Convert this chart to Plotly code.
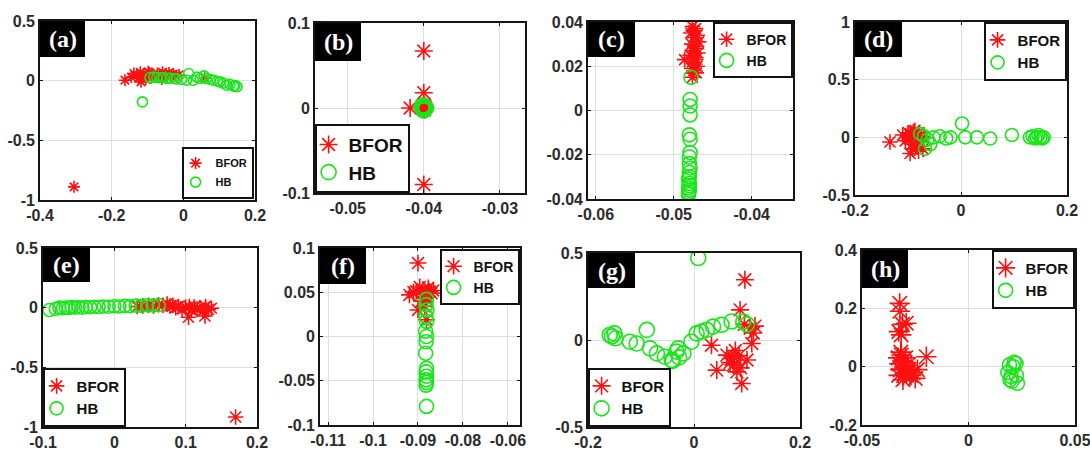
import plotly.graph_objects as go

W, H = 1090, 454

# ---------------- data ----------------
# (a)
a_bfor_x = [-0.305, -0.163, -0.145, -0.138, -0.130, -0.125, -0.120, -0.115, -0.110, -0.105,
            -0.100, -0.095, -0.090, -0.085, -0.080, -0.072, -0.065, -0.058, -0.052, -0.046,
            -0.040, -0.034, -0.028, -0.020, -0.012, -0.118, -0.098, -0.060, 0.060]
a_bfor_y = [-0.890, 0.004, 0.030, 0.060, 0.045, 0.020, 0.070, 0.035, 0.055, 0.010,
            0.040, 0.065, 0.025, 0.050, 0.035, 0.060, 0.045, 0.070, 0.050, 0.030,
            0.065, 0.045, 0.055, 0.040, 0.050, -0.010, 0.075, 0.015, 0.020]
a_hb_x = [-0.114, -0.093, -0.082, -0.074, -0.062, -0.056, -0.045, -0.037, -0.025, -0.019,
          -0.005, 0.009, 0.015, 0.028, 0.038, 0.047, 0.058, 0.065, 0.075, 0.084,
          0.095, 0.102, 0.112, 0.121, 0.130, 0.140, 0.144, 0.150]
a_hb_y = [-0.178, 0.026, 0.030, 0.026, 0.024, 0.026, 0.020, 0.022, 0.018, 0.015,
          0.010, 0.004, 0.060, 0.004, 0.030, 0.018, 0.040, 0.018, 0.010, 0.004,
          -0.005, -0.010, -0.020, -0.038, -0.030, -0.046, -0.040, -0.050]
# (b)
b_bfor_x = [-0.0400, -0.0400, -0.0418, -0.0402, -0.0399, -0.0398, -0.0401, -0.0400, -0.0399, -0.0400]
b_bfor_y = [0.067, 0.018, 0.000, 0.002, -0.002, 0.001, -0.001, 0.000, 0.003, -0.090]
b_hb_x = [-0.0402, -0.0398, -0.0400, -0.0401, -0.0399, -0.0397, -0.0403, -0.0400]
b_hb_y = [0.000, 0.001, -0.003, 0.003, -0.002, 0.000, 0.001, 0.002]
# (c)
c_bfor_x = [-0.0476, -0.0472, -0.0478, -0.0470, -0.0474, -0.0468, -0.0477, -0.0473, -0.0471, -0.0475,
            -0.0469, -0.0479, -0.0474, -0.0472, -0.0486, -0.0476, -0.0473, -0.0470, -0.0477, -0.0474,
            -0.0471, -0.0476, -0.0475]
c_bfor_y = [0.038, 0.037, 0.035, 0.034, 0.033, 0.031, 0.030, 0.029, 0.028, 0.027,
            0.026, 0.025, 0.024, 0.023, 0.023, 0.022, 0.021, 0.020, 0.019, 0.018,
            0.017, 0.015, 0.036]
c_hb_x = [-0.0478, -0.0479, -0.0479, -0.0479, -0.0480, -0.0479, -0.0479, -0.0480, -0.0480, -0.0479,
          -0.0480, -0.0480, -0.0481, -0.0480, -0.0480, -0.0481, -0.0480, -0.0481, -0.0481]
c_hb_y = [0.015, 0.005, 0.002, -0.002, -0.011, -0.013, -0.019, -0.021, -0.024, -0.026,
          -0.028, -0.030, -0.031, -0.033, -0.034, -0.035, -0.036, -0.037, -0.038]
# (d)
d_bfor_x = [-0.134, -0.110, -0.105, -0.100, -0.098, -0.095, -0.092, -0.090, -0.088, -0.085,
            -0.083, -0.080, -0.078, -0.075, -0.072, -0.070, -0.096, -0.087, -0.082, -0.093,
            -0.079, -0.091]
d_bfor_y = [-0.040, 0.020, -0.030, 0.040, -0.010, 0.030, -0.060, 0.050, 0.000, -0.080,
            0.020, -0.120, -0.040, 0.010, -0.100, 0.000, -0.140, 0.060, -0.020, 0.010,
            0.040, -0.100]
d_hb_x = [-0.077, -0.068, -0.063, -0.052, -0.040, -0.028, -0.020, 0.002, 0.008, 0.030,
          0.055, 0.096, 0.130, 0.135, 0.140, 0.143, 0.146, 0.150, 0.153, 0.156,
          -0.070, -0.058]
d_hb_y = [0.030, -0.100, -0.020, 0.000, 0.010, -0.010, 0.000, 0.120, 0.000, 0.000,
          -0.010, 0.020, 0.000, 0.010, -0.010, 0.000, 0.020, 0.000, -0.010, 0.000,
          0.010, -0.060]
# (e)
e_bfor_x = [0.032, 0.040, 0.048, 0.055, 0.062, 0.068, 0.074, 0.078, 0.082, 0.086,
            0.090, 0.095, 0.100, 0.105, 0.108, 0.112, 0.116, 0.120, 0.124, 0.128,
            0.132, 0.136, 0.104, 0.127, 0.170]
e_bfor_y = [0.010, 0.015, 0.020, 0.015, 0.025, 0.020, 0.030, 0.015, 0.020, 0.000,
            0.010, -0.010, 0.005, 0.010, -0.020, 0.005, -0.010, 0.000, -0.030, 0.010,
            -0.015, -0.005, -0.080, -0.070, -0.916]
e_hb_x = [-0.091, -0.082, -0.077, -0.072, -0.068, -0.064, -0.060, -0.055, -0.050, -0.045,
          -0.040, -0.034, -0.028, -0.022, -0.015, -0.008, 0.000, 0.007, 0.015, 0.022,
          0.030, 0.038, 0.046, 0.054, 0.062]
e_hb_y = [-0.020, -0.010, 0.000, -0.005, 0.002, -0.003, 0.005, 0.000, 0.004, 0.000,
          0.006, 0.003, 0.008, 0.005, 0.010, 0.008, 0.012, 0.010, 0.015, 0.012,
          0.018, 0.015, 0.020, 0.018, 0.022]
# (f)
f_bfor_x = [-0.0900, -0.0919, -0.0904, -0.0889, -0.0877, -0.0870, -0.0881, -0.0892, -0.0900, -0.0885,
            -0.0881, -0.0874, -0.0866, -0.0896, -0.0910, -0.0883]
f_bfor_y = [0.083, 0.047, 0.051, 0.053, 0.055, 0.049, 0.045, 0.040, 0.030, 0.034,
            0.019, 0.051, 0.052, 0.056, 0.050, 0.043]
f_hb_x = [-0.0881, -0.0882, -0.0880, -0.0882, -0.0881, -0.0883, -0.0881, -0.0882, -0.0883, -0.0881,
          -0.0882, -0.0881, -0.0882, -0.0881, -0.0882, -0.0881]
f_hb_y = [0.042, 0.036, 0.030, 0.023, 0.017, 0.006, 0.000, -0.006, -0.019, -0.036,
          -0.040, -0.045, -0.049, -0.052, -0.055, -0.079]
# (g)
g_bfor_x = [0.096, 0.087, 0.106, 0.112, 0.109, 0.033, 0.043, 0.062, 0.071, 0.074,
            0.081, 0.090, 0.100, 0.078, 0.068, 0.085, 0.095, 0.115, 0.088, 0.075]
g_bfor_y = [0.346, 0.173, 0.067, 0.040, -0.020, -0.030, -0.173, -0.087, -0.106, -0.144,
            -0.183, -0.250, -0.115, -0.060, -0.130, -0.090, 0.090, 0.080, -0.160, -0.100]
g_hb_x = [0.008, -0.159, -0.155, -0.150, -0.148, -0.121, -0.108, -0.089, -0.083, -0.070,
          -0.055, -0.042, -0.033, -0.030, -0.020, -0.005, 0.005, 0.014, 0.024, 0.036,
          0.052, 0.071, 0.093, 0.100, -0.028, -0.040]
g_hb_y = [0.471, 0.029, 0.020, 0.038, 0.010, -0.010, -0.020, 0.058, -0.048, -0.077,
          -0.096, -0.115, -0.067, -0.048, -0.077, -0.010, 0.038, 0.048, 0.058, 0.077,
          0.087, 0.106, 0.106, 0.090, -0.100, -0.120]
# (h)
h_bfor_x = [-0.0323, -0.0292, -0.0327, -0.0316, -0.0198, -0.0330, -0.0325, -0.0320, -0.0315, -0.0310,
            -0.0305, -0.0300, -0.0295, -0.0290, -0.0280, -0.0270, -0.0260, -0.0250, -0.0240, -0.0328,
            -0.0318, -0.0308, -0.0298, -0.0285, -0.0310, -0.0322]
h_bfor_y = [0.217, 0.149, 0.120, 0.109, 0.034, 0.030, 0.010, -0.010, 0.040, 0.020,
            -0.030, 0.000, 0.030, -0.020, -0.010, -0.030, -0.020, -0.040, -0.010, -0.030,
            0.050, -0.045, 0.015, 0.005, 0.145, 0.190]
h_hb_x = [0.0192, 0.0223, 0.0200, 0.0230, 0.0185, 0.0210, 0.0225, 0.0195, 0.0215, 0.0205]
h_hb_y = [0.006, 0.011, -0.034, -0.057, -0.020, 0.000, -0.030, -0.045, 0.015, -0.050]

# tick values / labels
a_xticks, a_xlabels = [-0.4, -0.2, 0, 0.2], ["-0.4", "-0.2", "0", "0.2"]
a_yticks, a_ylabels = [-1, -0.5, 0, 0.5], ["-1", "-0.5", "0", "0.5"]
b_xticks, b_xlabels = [-0.05, -0.04, -0.03], ["-0.05", "-0.04", "-0.03"]
b_yticks, b_ylabels = [-0.1, 0, 0.1], ["-0.1", "0", "0.1"]
c_xticks, c_xlabels = [-0.06, -0.05, -0.04], ["-0.06", "-0.05", "-0.04"]
c_yticks, c_ylabels = [-0.04, -0.02, 0, 0.02, 0.04], ["-0.04", "-0.02", "0", "0.02", "0.04"]
d_xticks, d_xlabels = [-0.2, 0, 0.2], ["-0.2", "0", "0.2"]
d_yticks, d_ylabels = [-0.5, 0, 0.5, 1], ["-0.5", "0", "0.5", "1"]
e_xticks, e_xlabels = [-0.1, 0, 0.1, 0.2], ["-0.1", "0", "0.1", "0.2"]
e_yticks, e_ylabels = [-1, -0.5, 0, 0.5], ["-1", "-0.5", "0", "0.5"]
f_xticks, f_xlabels = [-0.11, -0.10, -0.09, -0.08, -0.07], ["-0.11", "-0.1", "-0.09", "-0.08", "-0.06"]
f_yticks, f_ylabels = [-0.1, -0.05, 0, 0.05, 0.1], ["-0.1", "-0.05", "0", "0.05", "0.1"]
g_xticks, g_xlabels = [-0.2, 0, 0.2], ["-0.2", "0", "0.2"]
g_yticks, g_ylabels = [-0.5, 0, 0.5], ["-0.5", "0", "0.5"]
h_xticks, h_xlabels = [-0.05, 0, 0.05], ["-0.05", "0", "0.05"]
h_yticks, h_ylabels = [-0.2, 0, 0.2, 0.4], ["-0.2", "0", "0.2", "0.4"]

panel_labels = ["(a)", "(b)", "(c)", "(d)", "(e)", "(f)", "(g)", "(h)"]
series_names = ["BFOR", "HB"]

data = [
    (a_bfor_x, a_bfor_y, a_hb_x, a_hb_y, a_xticks, a_xlabels, a_yticks, a_ylabels),
    (b_bfor_x, b_bfor_y, b_hb_x, b_hb_y, b_xticks, b_xlabels, b_yticks, b_ylabels),
    (c_bfor_x, c_bfor_y, c_hb_x, c_hb_y, c_xticks, c_xlabels, c_yticks, c_ylabels),
    (d_bfor_x, d_bfor_y, d_hb_x, d_hb_y, d_xticks, d_xlabels, d_yticks, d_ylabels),
    (e_bfor_x, e_bfor_y, e_hb_x, e_hb_y, e_xticks, e_xlabels, e_yticks, e_ylabels),
    (f_bfor_x, f_bfor_y, f_hb_x, f_hb_y, f_xticks, f_xlabels, f_yticks, f_ylabels),
    (g_bfor_x, g_bfor_y, g_hb_x, g_hb_y, g_xticks, g_xlabels, g_yticks, g_ylabels),
    (h_bfor_x, h_bfor_y, h_hb_x, h_hb_y, h_xticks, h_xlabels, h_yticks, h_ylabels),
]

# ---------------- layout / style ----------------
# plot-area boxes in pixels: left, right, top, bottom
boxes = [(40, 255, 21, 200), (315, 525, 23, 193), (588, 793, 22, 199), (855, 1067, 22, 195),
         (43, 257, 248, 427), (320, 520, 248, 425), (588, 800, 253, 427), (862, 1075, 250, 425)]
ranges = [([-0.4, 0.2], [-1, 0.5]), ([-0.0543, -0.0267], [-0.1, 0.1]),
          ([-0.061, -0.0347], [-0.04, 0.04]), ([-0.2, 0.2], [-0.5, 1]),
          ([-0.1, 0.2], [-1, 0.5]), ([-0.1118, -0.0673], [-0.1, 0.1]),
          ([-0.2, 0.2], [-0.5, 0.5]), ([-0.05, 0.05], [-0.2, 0.4])]
# legend anchor px x, px y, xanchor, yanchor, font size
legends = [(254, 199, "right", "bottom", 11), (315, 193, "left", "bottom", 19),
           (793, 22, "right", "top", 14), (1067, 22, "right", "top", 15),
           (43, 427, "left", "bottom", 15), (520, 249, "right", "top", 14),
           (588, 427, "left", "bottom", 15), (1075, 250, "right", "top", 15)]
# label box px x0, x1, y0, y1
labboxes = [(40, 85, 21, 57), (315, 361, 23, 61), (588, 635, 22, 57), (855, 902, 22, 57),
            (43, 90, 248, 282), (320, 366, 248, 284), (588, 635, 253, 288), (862, 908, 250, 288)]
# marker sizes (asterisk, circle)
msizes = [(10, 10), (15, 15), (13, 14), (13, 13), (13, 13), (14, 14), (15, 15), (17, 14)]

RED = "#ff1010"
GREEN = "#19e619"
TICKFONT = dict(family="Arial, Liberation Sans, sans-serif", size=16, color="#2b2b2b", weight="bold")

fig = go.Figure()
shapes, annotations = [], []
layout = {}
for i, (bx, by, hx, hy, xt, xl, yt, yl) in enumerate(data):
    n = i + 1
    xa = "x" if n == 1 else f"x{n}"
    ya = "y" if n == 1 else f"y{n}"
    lg = "legend" if n == 1 else f"legend{n}"
    sa, sc = msizes[i]
    fig.add_trace(go.Scatter(
        x=bx, y=by, mode="markers", name=series_names[0], xaxis=xa, yaxis=ya, legend=lg,
        marker=dict(symbol="asterisk-open", size=sa, color=RED, line=dict(color=RED, width=1.6))))
    fig.add_trace(go.Scatter(
        x=hx, y=hy, mode="markers", name=series_names[1], xaxis=xa, yaxis=ya, legend=lg,
        marker=dict(symbol="circle-open", size=sc, color=GREEN, line=dict(color=GREEN, width=1.6))))

    l, r, t, b = boxes[i]
    xr, yr = ranges[i]
    common = dict(showgrid=True, gridcolor="#dedede", gridwidth=1, zeroline=False,
                  showline=True, mirror="ticks", linecolor="#151515", linewidth=1.6,
                  ticks="inside", ticklen=3, tickcolor="#151515", tickfont=TICKFONT,
                  fixedrange=True, automargin=False, ticklabeloverflow="allow")
    layout["xaxis" if n == 1 else f"xaxis{n}"] = dict(
        domain=[l / W, r / W], range=xr, tickvals=xt, ticktext=xl, anchor=ya, **common)
    layout["yaxis" if n == 1 else f"yaxis{n}"] = dict(
        domain=[1 - b / H, 1 - t / H], range=yr, tickvals=yt, ticktext=yl, anchor=xa, **common)

    lx, ly, xan, yan, fs = legends[i]
    layout[lg] = dict(x=lx / W, y=1 - ly / H, xref="paper", yref="paper", xanchor=xan, yanchor=yan,
                      bgcolor="white", bordercolor="#111", borderwidth=1.6,
                      font=dict(family="Arial, Liberation Sans, sans-serif", size=fs, color="#111",
                                weight="bold"),
                      itemwidth=30, tracegroupgap=0, indentation=-8)

    x0, x1, y0, y1 = labboxes[i]
    shapes.append(dict(type="rect", xref="paper", yref="paper", x0=x0 / W, x1=x1 / W,
                       y0=1 - y1 / H, y1=1 - y0 / H, fillcolor="black", line=dict(width=0),
                       layer="above"))
    annotations.append(dict(text=panel_labels[i], xref="paper", yref="paper",
                            x=(x0 + x1) / 2 / W, y=1 - (y0 + y1) / 2 / H,
                            xanchor="center", yanchor="middle", showarrow=False,
                            font=dict(family="Liberation Serif, Times New Roman, serif", size=24,
                                      color="white", weight="bold")))

fig.update_layout(width=W, height=H, margin=dict(l=0, r=0, t=0, b=0, autoexpand=False),
                  paper_bgcolor="white", plot_bgcolor="white",
                  shapes=shapes, annotations=annotations, showlegend=True, **layout)

fig.write_html("out.html")
